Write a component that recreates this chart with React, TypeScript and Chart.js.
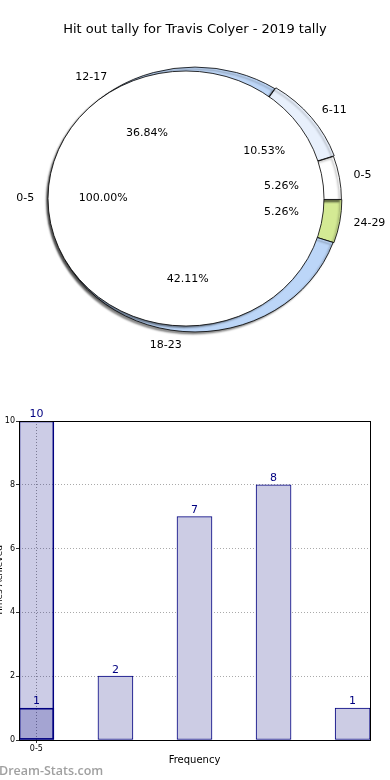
import React, { useEffect, useRef } from 'react';
import { Chart, registerables } from 'chart.js';

Chart.register(...registerables);

// ---------- data ----------
const TITLE = 'Hit out tally for Travis Colyer - 2019 tally';
const bins = ['0-5', '6-11', '12-17', '18-23', '24-29'];
const binCounts = [1, 2, 7, 8, 1];
const innerLabels = ['0-5'];
const innerCounts = [1];
const barValues = [10, 2, 7, 8, 1];
const overlayValues = [1];
const yTitle = 'Times Achieved';
const xTitle = 'Frequency';
const watermark = 'Dream-Stats.com';

const FONT = "'DejaVu Sans', sans-serif";

const pieColors = ['#ffffff', '#e8f0fc', '#bed7f8', '#bcd6f8', '#d4ea94'];
const explode = [1, 4, 0, 0, 2];

const K_OUT = 0.907;
const K_IN = 0.924;

function ellipsePlugin(k: number, outline: boolean) {
  return {
    id: 'ellipse',
    beforeDatasetsDraw(chart: any) {
      const arc = chart.getDatasetMeta(0).data[0];
      const ctx = chart.ctx;
      ctx.save();
      ctx.translate(arc.x, arc.y);
      ctx.scale(1, k);
      ctx.translate(-arc.x, -arc.y);
      ctx.shadowColor = 'rgba(0,0,0,0.45)';
      ctx.shadowOffsetX = -2;
      ctx.shadowOffsetY = 2;
      ctx.shadowBlur = 2;
    },
    afterDatasetsDraw(chart: any) {
      const ctx = chart.ctx as CanvasRenderingContext2D;
      if (outline) {
        const arc = chart.getDatasetMeta(0).data[0];
        ctx.shadowColor = 'rgba(0,0,0,0)';
        ctx.beginPath();
        ctx.arc(arc.x, arc.y, arc.outerRadius, 0, Math.PI * 2);
        ctx.strokeStyle = 'rgba(0,0,0,0.85)';
        ctx.lineWidth = 1;
        ctx.stroke();
      }
      ctx.restore();
    },
  };
}

function drawPieLabels(ctx: CanvasRenderingContext2D, chart: any, labels: string[], values: number[], k: number) {
  const meta = chart.getDatasetMeta(0);
  const total = values.reduce((a, b) => a + b, 0);
  meta.data.forEach((arc: any, i: number) => {
    const mid = (arc.startAngle + arc.endAngle) / 2;
    const R = arc.outerRadius;
    const c = Math.cos(mid);
    const s = Math.sin(mid);
    const lx = arc.x + 1.1 * R * c;
    const ly = arc.y + 1.1 * R * s * k;
    ctx.textAlign = c > 0 ? 'left' : 'right';
    ctx.fillText(labels[i], lx, ly);
    const px = arc.x + 0.6 * R * c;
    const py = arc.y + 0.6 * R * s * k;
    ctx.textAlign = 'center';
    ctx.fillText(((values[i] / total) * 100).toFixed(2) + '%', px, py);
  });
}

export default function App() {
  const outerRef = useRef<HTMLCanvasElement>(null);
  const innerRef = useRef<HTMLCanvasElement>(null);
  const barRef = useRef<HTMLCanvasElement>(null);

  useEffect(() => {
    Chart.defaults.font.family = FONT;
    Chart.defaults.color = '#000';

    // outer pie: clockwise from east = reverse of matplotlib's counter-clockwise order
    const order = [4, 3, 2, 1, 0];
    const oLabels = order.map((i) => bins[i]);
    const oValues = order.map((i) => binCounts[i]);

    const outer = new Chart(outerRef.current!, {
      type: 'pie',
      data: {
        labels: oLabels,
        datasets: [
          {
            data: oValues,
            backgroundColor: order.map((i) => pieColors[i]),
            borderColor: 'rgba(0,0,0,0.85)',
            borderWidth: 1,
            offset: order.map((i) => explode[i]),
            clip: false as any,
          },
        ],
      },
      options: {
        responsive: false,
        animation: false,
        rotation: 90,
        radius: 146,
        layout: { padding: { left: 49, right: 49, top: 53, bottom: 54 } },
        plugins: { legend: { display: false }, tooltip: { enabled: false } },
        events: [],
      } as any,
      plugins: [ellipsePlugin(K_OUT, false)],
    });

    const labelPlugin = {
      id: 'labels',
      afterDraw(chart: any) {
        const ctx = chart.ctx as CanvasRenderingContext2D;
        ctx.save();
        ctx.fillStyle = '#000';
        ctx.textBaseline = 'middle';
        ctx.font = `13px ${FONT}`;
        ctx.textAlign = 'center';
        ctx.fillText(TITLE, 195, 30);
        ctx.font = `11px ${FONT}`;
        drawPieLabels(ctx, outer, oLabels, oValues, K_OUT);
        drawPieLabels(ctx, chart, innerLabels, innerCounts, K_IN);
        ctx.restore();
      },
    };

    const inner = new Chart(innerRef.current!, {
      type: 'pie',
      data: {
        labels: innerLabels,
        datasets: [
          {
            data: innerCounts,
            backgroundColor: '#ffffff',
            borderWidth: 0,
            clip: false as any,
          },
        ],
      },
      options: {
        responsive: false,
        animation: false,
        rotation: 90,
        radius: 138,
        layout: { padding: { left: 48, right: 66, top: 60, bottom: 63 } },
        plugins: { legend: { display: false }, tooltip: { enabled: false } },
        events: [],
      } as any,
      plugins: [ellipsePlugin(K_IN, true), labelPlugin],
    });

    const valueLabels = {
      id: 'valueLabels',
      afterDatasetsDraw(chart: any) {
        const ctx = chart.ctx as CanvasRenderingContext2D;
        ctx.save();
        ctx.fillStyle = '#000080';
        ctx.font = `11px ${FONT}`;
        ctx.textAlign = 'center';
        ctx.textBaseline = 'bottom';
        chart.data.datasets.forEach((ds: any, di: number) => {
          const meta = chart.getDatasetMeta(di);
          meta.data.forEach((el: any, i: number) => {
            ctx.fillText(String(ds.data[i].y), el.x, el.y - 1);
          });
        });
        ctx.restore();
      },
    };

    const boxPlugin = {
      id: 'box',
      afterDraw(chart: any) {
        const { left, top, right, bottom } = chart.chartArea;
        const ctx = chart.ctx as CanvasRenderingContext2D;
        ctx.save();
        ctx.strokeStyle = '#000';
        ctx.lineWidth = 1;
        ctx.strokeRect(Math.round(left) + 0.5, Math.round(top) + 0.5, Math.round(right - left), Math.round(bottom - top));
        ctx.restore();
      },
    };

    const bar = new Chart(barRef.current!, {
      type: 'bar',
      data: {
        datasets: [
          {
            data: barValues.map((v, i) => ({ x: i, y: v })),
            backgroundColor: barValues.map((_, i) => (i === 0 ? 'rgba(0,0,128,0.2)' : '#ccccE4')),
            borderColor: '#000080',
            borderWidth: 1,
            borderSkipped: false,
            grouped: false,
            barThickness: 35,
            order: 1,
          },
          {
            data: overlayValues.map((v, i) => ({ x: i, y: v })),
            backgroundColor: 'rgba(0,0,128,0.2)',
            borderColor: '#000080',
            borderWidth: 1,
            borderSkipped: false,
            grouped: false,
            barThickness: 35,
            order: 0,
          },
        ],
      },
      options: {
        responsive: false,
        animation: false,
        events: [],
        layout: { padding: { top: 26, right: 16, left: 0, bottom: 0 } },
        plugins: { legend: { display: false }, tooltip: { enabled: false } },
        scales: {
          x: {
            type: 'linear',
            offset: false,
            min: -0.22,
            max: 4.22,
            bounds: 'data',
            afterBuildTicks: (axis: any) => {
              axis.ticks = [{ value: 0 }];
            },
            afterFit: (scale: any) => {
              scale.height = 40;
            },
            ticks: {
              font: { size: 8 },
              padding: 1,
              maxRotation: 0,
              autoSkip: false,
              callback: (v: any) => bins[v] ?? '',
            },
            grid: {
              offset: false,
              color: '#999999',
              tickLength: 3,
              tickColor: '#333',
            } as any,
            border: { display: false, dash: [1, 2] },
            title: { display: true, text: xTitle, font: { size: 10 }, padding: { top: 0, bottom: 14 } },
          },
          y: {
            min: 0,
            max: 10,
            afterFit: (scale: any) => {
              scale.width = 25;
            },
            ticks: { stepSize: 2, font: { size: 8 }, padding: 1 },
            grid: {
              color: '#aaaaaa',
              tickLength: 3,
              tickColor: '#333',
            } as any,
            border: { display: false, dash: [1, 2] },
            title: { display: true, text: yTitle, font: { size: 9 }, padding: 0 },
          },
        },
      } as any,
      plugins: [valueLabels, boxPlugin],
    });

    return () => {
      outer.destroy();
      inner.destroy();
      bar.destroy();
    };
  }, []);

  return (
    <div style={{ position: 'absolute', left: 0, top: 0, width: 390, height: 780, overflow: 'hidden', background: '#fff' }}>
      <canvas ref={outerRef} width={390} height={400} style={{ position: 'absolute', left: 0, top: 0 }} />
      <canvas ref={innerRef} width={390} height={400} style={{ position: 'absolute', left: 0, top: 0 }} />
      <canvas ref={barRef} width={392} height={385} style={{ position: 'absolute', left: -6, top: 395 }} />
      <div
        style={{
          position: 'absolute',
          left: -1,
          top: 762,
          fontFamily: "'Open Sans', sans-serif",
          fontSize: 12.5,
          fontWeight: 600,
          color: '#a0a0a0',
          whiteSpace: 'nowrap',
        }}
      >
        {watermark}
      </div>
    </div>
  );
}
